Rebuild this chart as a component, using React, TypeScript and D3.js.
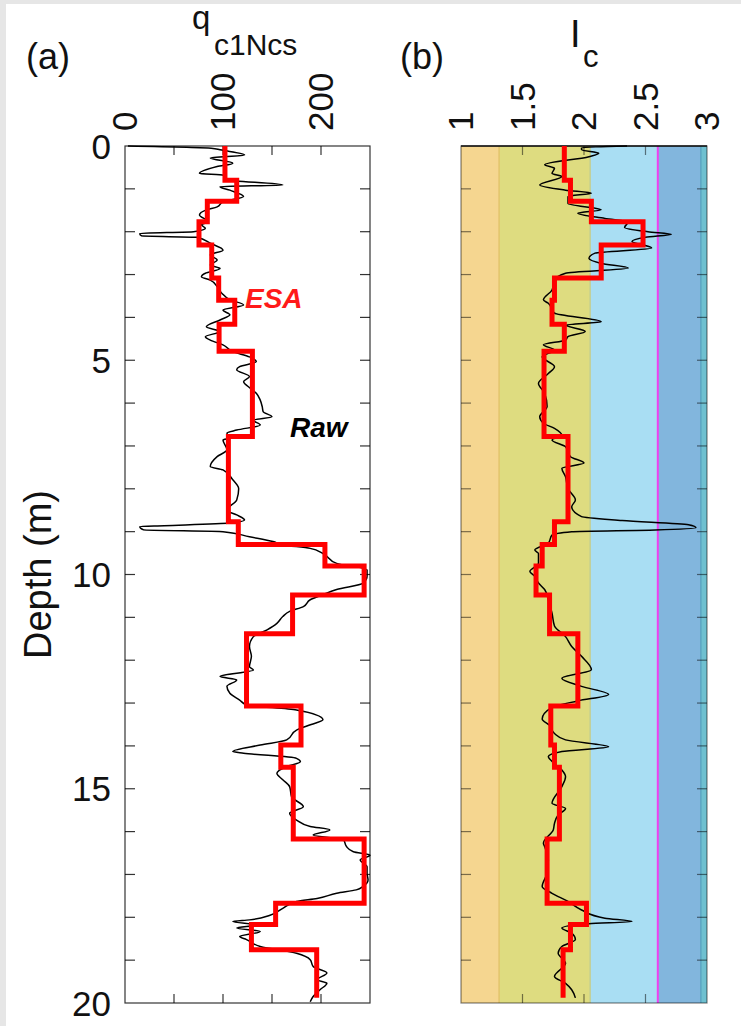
import * as d3 from 'd3'

// ESA layer boundaries (m) and layer values
const layerDepths = [0, 0.8, 1.29, 1.77, 2.31, 3.08, 3.6, 4.16, 4.79, 6.78, 8.77, 9.3, 9.8, 10.48, 11.38, 13.07, 13.98, 14.5, 16.17, 17.67, 18.17, 18.76, 19.88]
const esaQ = [102, 114, 84, 75.5, 88.5, 95.6, 112, 96, 130, 105.5, 115.6, 204, 244, 171, 124, 179.6, 159, 171.7, 244, 153.7, 129, 195.6]
const esaIc = [1.84, 1.89, 2.06, 2.48, 2.14, 1.76, 1.74, 1.84, 1.675, 1.87, 1.76, 1.66, 1.61, 1.72, 1.95, 1.73, 1.76, 1.8, 1.7, 2.02, 1.89, 1.83]

// raw qc1Ncs profile
const rawQDepth = [0, 0.05, 0.09, 0.21, 0.28, 0.4, 0.48, 0.64, 0.68, 0.79, 0.91, 0.95, 1.03, 1.18, 1.3, 1.42, 1.49, 1.61, 1.77, 1.84, 1.92, 2.0, 2.04, 2.1, 2.13, 2.27, 2.43, 2.54, 2.66, 2.78, 2.86, 2.97, 3.05, 3.13, 3.28, 3.44, 3.59, 3.71, 3.83, 3.94, 4.06, 4.22, 4.33, 4.45, 4.53, 4.64, 4.8, 4.92, 5.03, 5.15, 5.22, 5.38, 5.5, 5.62, 5.77, 5.93, 6.08, 6.2, 6.32, 6.4, 6.51, 6.63, 6.7, 6.82, 6.86, 7.09, 7.25, 7.48, 7.56, 7.79, 8.0, 8.26, 8.5, 8.61, 8.73, 8.8, 8.86, 8.88, 8.96, 9.0, 9.12, 9.23, 9.31, 9.39, 9.51, 9.74, 9.89, 10.04, 10.2, 10.35, 10.47, 10.59, 10.75, 10.86, 10.98, 11.14, 11.29, 11.45, 11.68, 11.91, 12.15, 12.23, 12.38, 12.46, 12.61, 12.77, 12.93, 13.04, 13.16, 13.39, 13.5, 13.63, 13.86, 13.98, 14.13, 14.17, 14.29, 14.37, 14.48, 14.64, 14.79, 14.95, 15.19, 15.42, 15.57, 15.73, 15.88, 15.96, 16.08, 16.19, 16.35, 16.47, 16.55, 16.66, 16.82, 16.97, 17.13, 17.28, 17.36, 17.44, 17.56, 17.63, 17.79, 17.95, 18.06, 18.1, 18.18, 18.25, 18.33, 18.45, 18.52, 18.68, 18.84, 18.99, 19.15, 19.3, 19.46, 19.54, 19.69, 19.85, 19.97]
const rawQ = [3, 88, 97, 122, 87, 110, 94, 76, 100, 104, 161, 97, 107, 121, 100, 94, 83, 76, 85, 78, 82, 70, 15, 17, 73, 87, 100, 87, 94, 87, 97, 82, 78, 87, 94, 99, 107, 121, 100, 107, 97, 83, 97, 82, 87, 100, 110, 127, 134, 117, 114, 127, 121, 126, 134, 138, 140, 141, 150, 131, 138, 114, 104, 107, 100, 104, 94, 87, 100, 110, 116, 114, 104, 114, 122, 107, 40, 15, 19, 100, 127, 151, 161, 189, 202, 216, 247, 247, 243, 216, 202, 189, 182, 168, 161, 155, 145, 131, 127, 129, 127, 131, 97, 114, 104, 107, 117, 124, 175, 202, 190, 175, 165, 138, 110, 121, 175, 179, 165, 155, 161, 168, 170, 182, 168, 175, 189, 209, 192, 223, 226, 233, 250, 240, 247, 247, 248, 243, 236, 216, 196, 175, 161, 148, 127, 110, 134, 114, 138, 117, 124, 138, 175, 189, 192, 206, 196, 206, 199, 192, 189]

// raw Ic profile
const rawIcDepth = [0, 0.04, 0.09, 0.17, 0.25, 0.44, 0.52, 0.64, 0.71, 0.91, 1.03, 1.1, 1.18, 1.34, 1.49, 1.57, 1.69, 1.77, 1.9, 2.0, 2.06, 2.13, 2.23, 2.38, 2.5, 2.62, 2.74, 2.85, 2.97, 3.13, 3.36, 3.59, 3.67, 3.9, 4.1, 4.18, 4.33, 4.45, 4.53, 4.64, 4.76, 4.92, 5.15, 5.31, 5.54, 5.77, 6.08, 6.32, 6.47, 6.59, 6.75, 6.86, 7.02, 7.25, 7.4, 7.52, 7.72, 8.0, 8.26, 8.42, 8.65, 8.74, 8.84, 8.91, 8.96, 9.0, 9.08, 9.27, 9.43, 9.51, 9.74, 9.93, 10.04, 10.2, 10.35, 10.59, 10.9, 11.2, 11.45, 11.68, 11.91, 12.22, 12.42, 12.61, 12.8, 12.95, 13.1, 13.37, 13.52, 13.71, 13.86, 14.02, 14.13, 14.25, 14.41, 14.56, 14.72, 14.95, 15.34, 15.46, 15.61, 15.81, 15.96, 16.27, 16.35, 16.66, 16.97, 17.28, 17.44, 17.63, 17.83, 18.02, 18.1, 18.15, 18.25, 18.37, 18.52, 18.68, 18.84, 19.07, 19.38, 19.54, 19.69, 19.88]
const rawIc = [2.35, 1.98, 1.98, 2.12, 2.04, 1.68, 1.76, 1.74, 1.82, 1.64, 1.85, 2.06, 1.87, 1.87, 2.14, 1.95, 2.17, 2.36, 2.33, 2.52, 2.71, 2.5, 2.39, 2.55, 2.09, 2.04, 2.14, 2.36, 1.85, 1.76, 1.74, 1.67, 1.71, 1.76, 2.14, 1.85, 2.01, 1.87, 1.85, 1.67, 1.76, 1.66, 1.76, 1.71, 1.63, 1.68, 1.7, 1.64, 1.67, 1.76, 1.82, 1.74, 1.85, 1.89, 2.0, 1.82, 1.85, 1.87, 1.93, 1.9, 1.98, 2.31, 2.85, 2.91, 2.58, 1.9, 1.74, 1.71, 1.6, 1.63, 1.63, 1.56, 1.6, 1.63, 1.68, 1.71, 1.74, 1.76, 1.85, 1.9, 1.98, 2.06, 1.82, 1.98, 2.2, 1.95, 1.74, 1.66, 1.72, 1.76, 1.85, 2.2, 1.82, 1.71, 1.76, 1.82, 1.85, 1.82, 1.74, 1.85, 1.79, 1.76, 1.75, 1.67, 1.68, 1.71, 1.7, 1.66, 1.74, 1.87, 1.98, 2.17, 2.39, 2.04, 1.82, 1.9, 1.93, 1.82, 1.79, 1.85, 1.76, 1.85, 1.9, 1.93]

// Ic soil behaviour zones
const zoneEdges = [1, 1.31, 2.05, 2.6, 2.95, 3]
const zoneFills = ['#f5d690', '#dedc80', '#a9def3', '#82b6dd', '#6fc0d0']
const zoneLines = ['#e2c46a', '#c2cf92', '#f040f0', '#5aa4c2']

const depthTicks = d3.range(0, 21, 1)
const depthLabels = [0, 5, 10, 15, 20]
const qTicks = [50, 100, 150, 200]
const qLabels = [0, 100, 200]
const icTicks = [1.5, 2, 2.5]
const icLabels = ['1', '1.5', '2', '2.5', '3']

const FONT = 'Liberation Sans, Arial, sans-serif'

const y = d3.scaleLinear().domain([0, 20]).range([146, 1003])
const xa = d3.scaleLinear().domain([0, 250]).range([125, 370])
const xb = d3.scaleLinear().domain([1, 3]).range([461, 707])

function stepPoints(vals: number[]) {
  const pts: [number, number][] = []
  vals.forEach((v, i) => {
    pts.push([v, layerDepths[i]])
    pts.push([v, layerDepths[i + 1]])
  })
  return pts
}

function Frame({ x, opacity }: { x: d3.ScaleLinear<number, number>, opacity: number }) {
  const [x0, x1] = x.range()
  const [y0, y1] = y.range()
  const ticksX = x === xa ? qTicks : icTicks
  return (
    <g stroke="#000" strokeOpacity={opacity} strokeWidth={1.2} fill="none">
      <rect x={x0} y={y0} width={x1 - x0} height={y1 - y0} />
      {depthTicks.slice(1, -1).map(d => (
        <g key={d}>
          <line x1={x0} x2={x0 + 10} y1={y(d)} y2={y(d)} />
          <line x1={x1} x2={x1 - 10} y1={y(d)} y2={y(d)} />
        </g>
      ))}
      {ticksX.map(t => (
        <g key={t}>
          <line x1={x(t)} x2={x(t)} y1={y0} y2={y0 + 9} />
          <line x1={x(t)} x2={x(t)} y1={y1} y2={y1 - 9} />
        </g>
      ))}
    </g>
  )
}

export default function App() {
  const lineQ = d3.line<[number, number]>().x(d => xa(d[0])).y(d => y(d[1]))
  const lineIc = d3.line<[number, number]>().x(d => xb(d[0])).y(d => y(d[1]))
  const rawLineQ = d3.line<number>().x(d => xa(d)).y((_, i) => y(rawQDepth[i])).curve(d3.curveMonotoneY)
  const rawLineIc = d3.line<number>().x(d => xb(d)).y((_, i) => y(rawIcDepth[i])).curve(d3.curveMonotoneY)
  const [by0, by1] = y.range()

  return (
    <div style={{ position: 'absolute', left: 0, top: 0 }}>
      <svg width={741} height={1026} style={{ display: 'block', background: '#fff' }} fontFamily={FONT}>
        <rect x={0} y={0} width={741} height={4} fill="#e6e6e6" />
        <rect x={0} y={0} width={6} height={1026} fill="#e6e6e6" />

        {/* panel (a) */}
        <text x={26} y={69} fontSize={36} fill="#111">(a)</text>
        <text x={192} y={29} fontSize={33} fill="#111">q</text>
        <text x={214} y={55} fontSize={30} fill="#111">c1Ncs</text>
        {qLabels.map(v => (
          <text key={v} transform={`translate(${xa(v) + 12},131) rotate(-90)`} fontSize={35} fill="#111">{v}</text>
        ))}
        {depthLabels.map(d => (
          <text key={d} x={111} y={y(d) + 12.5} textAnchor="end" fontSize={35} fill="#111">{d}</text>
        ))}
        <text transform={`translate(51,${(by0 + by1) / 2}) rotate(-90)`} textAnchor="middle" fontSize={38} fill="#111">Depth (m)</text>

        <Frame x={xa} opacity={0.8} />
        <path d={rawLineQ(rawQ) ?? ''} fill="none" stroke="#000" strokeWidth={1.5} />
        <path d={lineQ(stepPoints(esaQ)) ?? ''} fill="none" stroke="#ff0000" strokeWidth={5} strokeLinejoin="miter" />
        <text x={245} y={308} fontSize={28} fontWeight="bold" fontStyle="italic" fill="#ff1a1a">ESA</text>
        <text x={290} y={437} fontSize={28} fontWeight="bold" fontStyle="italic" fill="#000">Raw</text>

        {/* panel (b) */}
        <text x={400} y={69} fontSize={36} fill="#111">(b)</text>
        <text x={570} y={47} fontSize={38} fill="#111">I</text>
        <text x={583} y={67} fontSize={31} fill="#111">c</text>
        {icLabels.map(v => (
          <text key={v} transform={`translate(${xb(+v) + 12},131) rotate(-90)`} fontSize={35} fill="#111">{v}</text>
        ))}
        {zoneFills.map((c, i) => (
          <rect key={c} x={xb(zoneEdges[i])} y={by0} width={xb(zoneEdges[i + 1]) - xb(zoneEdges[i])} height={by1 - by0} fill={c} />
        ))}
        {zoneLines.map((c, i) => (
          <line key={c} x1={xb(zoneEdges[i + 1])} x2={xb(zoneEdges[i + 1])} y1={by0} y2={by1} stroke={c} strokeWidth={i === 2 ? 2 : 1.5} />
        ))}
        <Frame x={xb} opacity={0.5} />
        <line x1={xb(1)} x2={xb(3)} y1={by0} y2={by0} stroke="#111" strokeWidth={1.5} />
        <path d={rawLineIc(rawIc) ?? ''} fill="none" stroke="#000" strokeWidth={1.5} />
        <path d={lineIc(stepPoints(esaIc)) ?? ''} fill="none" stroke="#ff0000" strokeWidth={5} strokeLinejoin="miter" />
      </svg>
    </div>
  )
}
